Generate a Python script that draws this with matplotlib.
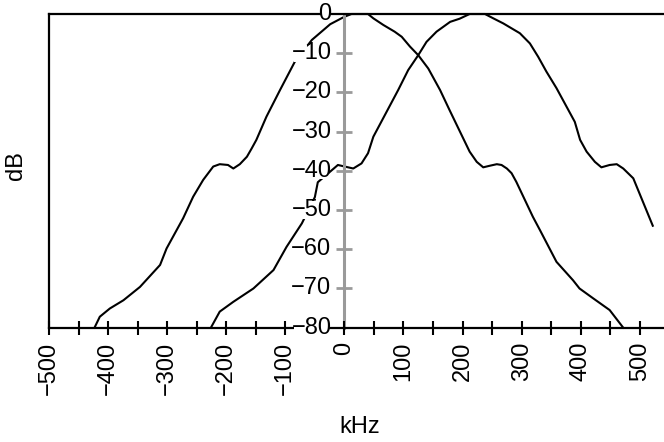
import matplotlib
matplotlib.use('Agg')
import matplotlib.pyplot as plt

plt.rcParams['font.family'] = ['Liberation Sans', 'DejaVu Sans']

# channel centred near 25 kHz
freq_a = [-423, -414, -397, -374, -346, -312, -301, -273, -256, -239, -222, -211,
          -197, -188, -177, -165, -157, -149, -132, -109, -84, -55, -24, 0, 12, 40,
          49, 66, 85, 97, 111, 125, 142, 162, 178, 212, 224, 235, 246, 258, 266,
          275, 283, 291, 319, 331, 359, 387, 398, 421, 449, 472]
db_a = [-80, -77.2, -75.1, -73, -69.6, -64, -59.8, -52.1, -46.6, -42.3, -38.9, -38.3,
        -38.5, -39.4, -38.3, -36.4, -34.3, -32.1, -26.2, -19.4, -12.2, -6.6, -2.6, -0.7,
        0, 0, -1.1, -2.8, -4.5, -5.8, -8.3, -10.5, -13.9, -19.4, -24.5, -35.1, -37.7,
        -39.1, -38.7, -38.3, -38.5, -39.4, -40.6, -42.8, -51.7, -55.1, -63.2, -67.9,
        -70.0, -72.5, -75.5, -80]

# channel centred near 225 kHz
freq_b = [-226, -211, -188, -154, -120, -98, -72, -50, -45, -11, 15, 29, 40, 49, 91,
          108, 125, 139, 156, 179, 195, 212, 238, 252, 269, 297, 314, 328, 342, 359,
          390, 399, 410, 424, 435, 449, 461, 472, 489, 522]
db_b = [-80, -75.9, -73.4, -70, -65.3, -59.4, -53.4, -46.7, -42.9, -38.5, -39.4, -38.1,
        -35.5, -31.3, -19.4, -14.3, -10.5, -7.1, -4.5, -2.0, -1.2, 0, 0, -1.1, -2.4,
        -4.9, -7.5, -10.9, -14.7, -18.9, -27.5, -32.1, -35.1, -37.7, -39.1, -38.5,
        -38.3, -39.4, -41.9, -54]

x_major = [-500, -400, -300, -200, -100, 0, 100, 200, 300, 400, 500]
x_minor = [-450, -350, -250, -150, -50, 50, 150, 250, 350, 450]
y_labels = [0, -10, -20, -30, -40, -50, -60, -70, -80]

FS = 17

fig = plt.figure(figsize=(6.64, 4.42), dpi=100)
ax = fig.add_axes([0.0738, 0.2586, 0.9262, 0.7097])
ax.set_xlim(-500, 541)
ax.set_ylim(-80, 0)
ax.set_axisbelow(False)

ax.plot(freq_a, db_a, color='black', lw=1.5, clip_on=False, zorder=2)
ax.plot(freq_b, db_b, color='black', lw=1.5, clip_on=False, zorder=2)

# frame: black left, top and bottom, gray centre axis
for side in ['top', 'bottom']:
    ax.spines[side].set_color('black')
    ax.spines[side].set_linewidth(1.6)
ax.spines['right'].set_visible(False)
ax.spines['left'].set_position(('data', 0))
ax.spines['left'].set_color('#9a9a9a')
ax.spines['left'].set_linewidth(2.2)
ax.axvline(-500, color='black', lw=1.6, zorder=3, clip_on=False)

ax.set_xticks(x_major)
ax.set_xticks(x_minor, minor=True)
ax.set_xticklabels([str(v).replace('-', '\u2212') for v in x_major], rotation=90,
                   fontsize=FS)
ax.tick_params(axis='x', which='both', direction='inout', length=10, width=1.5,
               color='black', pad=5)

ax.set_yticks([-70, -60, -50, -40, -30, -20, -10])
ax.set_yticklabels([])
ax.tick_params(axis='y', direction='inout', length=11, width=2, color='#9a9a9a')

# y labels sit on the gray axis and hide the curves behind them
for v in y_labels:
    ax.annotate(str(v).replace('-', '\u2212'), xy=(0, v), xytext=(-13, 0),
                textcoords='offset pixels', ha='right', va='center', fontsize=FS,
                bbox=dict(boxstyle='square,pad=-0.1', fc='white', ec='none'),
                zorder=5, annotation_clip=False)

fig.text(16 / 664, 1 - 166 / 442, 'dB', rotation=90, ha='center', va='center',
         fontsize=FS)
fig.text(360 / 664, 1 - 427 / 442, 'kHz', ha='center', va='center', fontsize=FS)

fig.savefig('out.png', dpi=100)
